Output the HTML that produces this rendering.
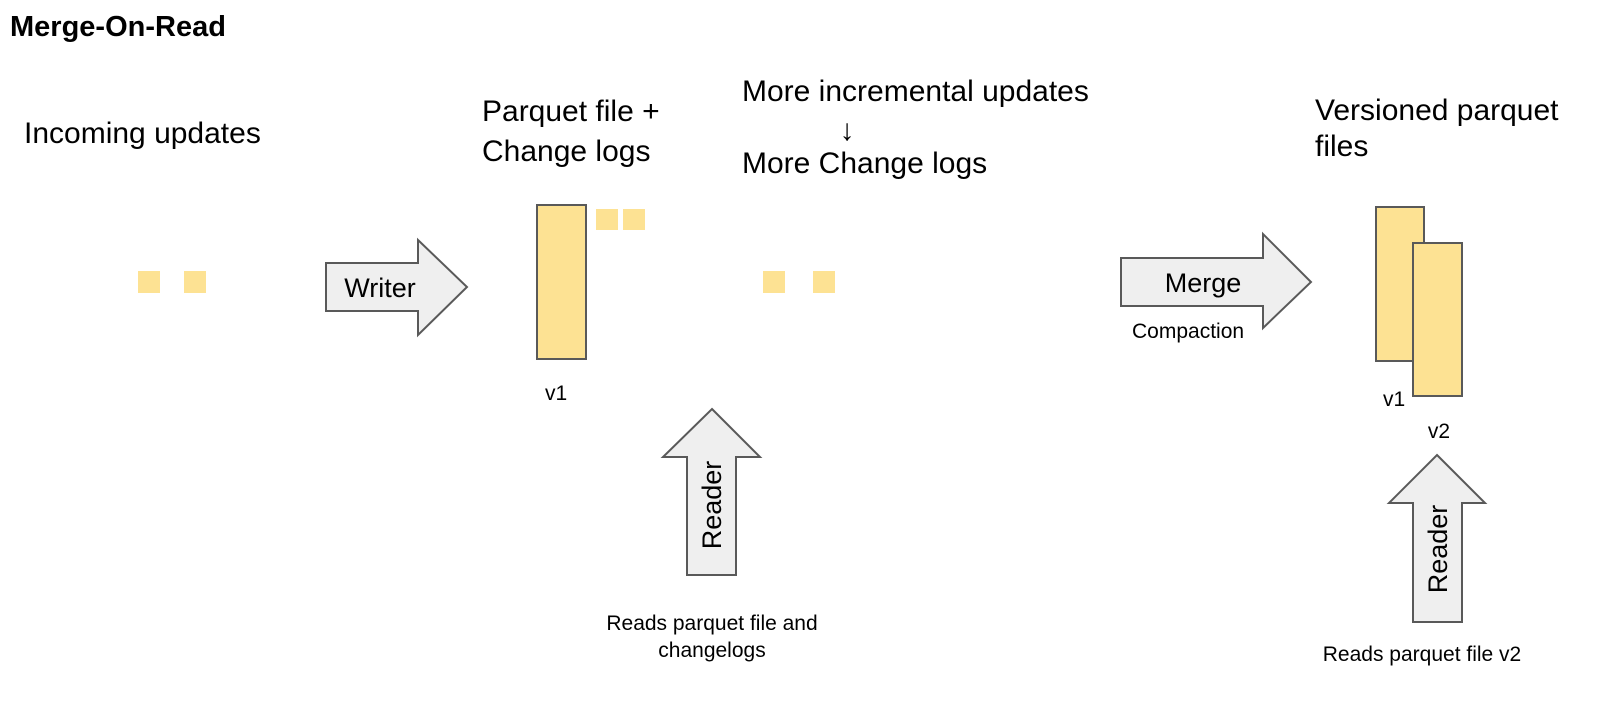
<!DOCTYPE html>
<html><head><meta charset="utf-8"><style>
html,body{margin:0;padding:0;background:#fff;}
svg{display:block;font-family:"Liberation Sans",Arial,sans-serif;}
</style></head><body>
<svg width="1600" height="723" viewBox="0 0 1600 723" xmlns="http://www.w3.org/2000/svg">
<rect width="1600" height="723" fill="#fff"/>
<text x="10" y="36" font-size="29" font-weight="bold" fill="#000">Merge-On-Read</text>
<text x="24" y="143" font-size="30" fill="#000">Incoming updates</text>
<text x="482" y="121" font-size="30" fill="#000">Parquet file +</text>
<text x="482" y="161" font-size="30" fill="#000">Change logs</text>
<text x="742" y="101" font-size="30" fill="#000">More incremental updates</text>
<text x="847" y="140" font-size="30" text-anchor="middle" fill="#000">↓</text>
<text x="742" y="173" font-size="30" fill="#000">More Change logs</text>
<text x="1315" y="120" font-size="30" fill="#000">Versioned parquet</text>
<text x="1315" y="156" font-size="30" fill="#000">files</text>

<g fill="#fde293">
<rect x="138" y="271" width="22" height="22"/><rect x="184" y="271" width="22" height="22"/>
<rect x="596" y="209" width="22" height="21"/><rect x="623" y="209" width="22" height="21"/>
<rect x="763" y="271" width="22" height="22"/><rect x="813" y="271" width="22" height="22"/>
</g>

<g fill="#fde293" stroke="#595959" stroke-width="2">
<rect x="537" y="205" width="49" height="154"/>
<rect x="1376" y="207" width="48" height="154"/>
<rect x="1413" y="243" width="49" height="153"/>
</g>
<text x="545" y="400" font-size="21" fill="#000">v1</text>
<text x="1383" y="406" font-size="21" fill="#000">v1</text>
<text x="1439" y="438" font-size="21" text-anchor="middle" fill="#000">v2</text>

<g fill="#efefef" stroke="#595959" stroke-width="2" stroke-linejoin="miter">
<polygon points="326,263 418,263 418,240 467,287 418,335 418,311 326,311"/>
<polygon points="1121,258 1263,258 1263,234 1311,282 1263,328 1263,306 1121,306"/>
<polygon points="712,409 760,457 736,457 736,575 687,575 687,457 663,457"/>
<polygon points="1437,455 1485,503 1462,503 1462,622 1413,622 1413,503 1389,503"/>
</g>
<text x="380" y="297" font-size="27" text-anchor="middle" fill="#000">Writer</text>
<text x="1203" y="292" font-size="27" text-anchor="middle" fill="#000">Merge</text>
<text x="1132" y="338" font-size="21" fill="#000">Compaction</text>
<text transform="translate(721,505) rotate(-90)" font-size="27" text-anchor="middle" fill="#000">Reader</text>
<text transform="translate(1447,549) rotate(-90)" font-size="27" text-anchor="middle" fill="#000">Reader</text>
<text x="712" y="630" font-size="21" text-anchor="middle" fill="#000">Reads parquet file and</text>
<text x="712" y="657" font-size="21" text-anchor="middle" fill="#000">changelogs</text>
<text x="1422" y="661" font-size="21" text-anchor="middle" fill="#000">Reads parquet file v2</text>
</svg>
</body></html>
